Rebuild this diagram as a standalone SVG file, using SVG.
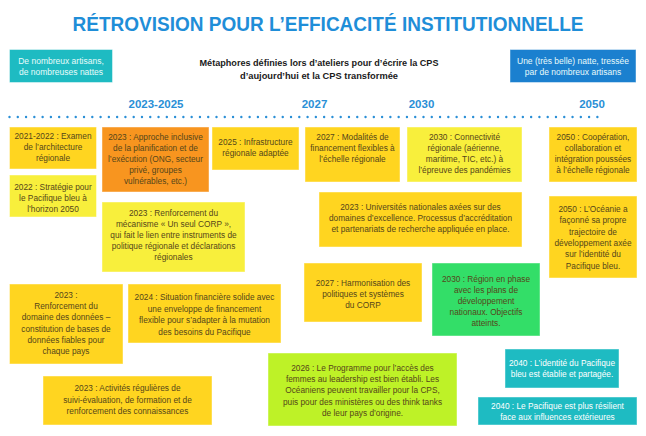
<svg xmlns="http://www.w3.org/2000/svg" width="646" height="436" viewBox="0 0 646 436">
<style>
text{font-family:"Liberation Sans",Arial,sans-serif;text-anchor:middle}
.t{font-size:8.3px;fill:#55461a}
.w{font-size:8.3px;fill:#ffffff}
.hd{font-size:8.5px;fill:#e8fbfb}
.yr{font-size:11.5px;font-weight:bold;fill:#2a8fd6}
.sub{font-size:9px;font-weight:bold;fill:#1a1a1a}
rect{stroke:#ffffff;stroke-opacity:0.45;stroke-width:1}
.gold{fill:#ffd520}
.lt{fill:#f8ef3c}
.or{fill:#f8951f}
.gr{fill:#33de68}
.li{fill:#bef227}
.te{fill:#1ebbc2}
.bl{fill:#1b80cf}
</style>
<rect width="646" height="436" fill="#ffffff" style="stroke:none"/>
<text x="328" y="30.5" font-size="21" font-weight="bold" fill="#1f8ed8" textLength="511" lengthAdjust="spacingAndGlyphs">RÉTROVISION POUR L’EFFICACITÉ INSTITUTIONNELLE</text>

<g id="hdr-left">
<rect class="te" x="9.5" y="49.5" width="103" height="33"/>
<text class="hd" x="61" y="64">De nombreux artisans,</text>
<text class="hd" x="61" y="74.5">de nombreuses nattes</text>
</g>
<g id="hdr-center">
<text class="sub" x="319" y="66" textLength="239" lengthAdjust="spacingAndGlyphs">Métaphores définies lors d’ateliers pour d’écrire la CPS</text>
<text class="sub" x="319" y="78.5" textLength="158" lengthAdjust="spacingAndGlyphs">d’aujourd’hui et la CPS transformée</text>
</g>
<g id="hdr-right">
<rect class="bl" x="510" y="49.5" width="126" height="33"/>
<text class="hd" x="573" y="64">Une (très belle) natte, tressée</text>
<text class="hd" x="573" y="74.5">par de nombreux artisans</text>
</g>

<g id="timeline">
<text class="yr" x="156" y="107.5">2023-2025</text>
<text class="yr" x="314.5" y="107.5">2027</text>
<text class="yr" x="421.5" y="107.5">2030</text>
<text class="yr" x="592" y="107.5">2050</text>
<line x1="9.5" y1="117" x2="598" y2="117" stroke="#2a8fd6" stroke-width="2.4" stroke-linecap="round" stroke-dasharray="0 8.28"/>
</g>

<g id="b1">
<rect class="gold" x="9.5" y="127" width="87" height="42"/>
<text class="t" x="53" y="139">2021-2022 : Examen</text>
<text class="t" x="53" y="150">de l’architecture</text>
<text class="t" x="53" y="161">régionale</text>
</g>
<g id="b2">
<rect class="lt" x="9.5" y="175" width="87" height="42"/>
<text class="t" x="53" y="190">2022 : Stratégie pour</text>
<text class="t" x="53" y="201">le Pacifique bleu à</text>
<text class="t" x="53" y="211.5">l’horizon 2050</text>
</g>
<g id="b3">
<rect class="or" x="102" y="127" width="107" height="65"/>
<text class="t" x="155.5" y="140">2023 : Approche inclusive</text>
<text class="t" x="155.5" y="151">de la planification et de</text>
<text class="t" x="155.5" y="162">l’exécution (ONG, secteur</text>
<text class="t" x="155.5" y="173">privé, groupes</text>
<text class="t" x="155.5" y="184">vulnérables, etc.)</text>
</g>
<g id="b4">
<rect class="lt" x="102" y="202" width="143" height="70"/>
<text class="t" x="173.5" y="216">2023 : Renforcement du</text>
<text class="t" x="173.5" y="227">mécanisme « Un seul CORP »,</text>
<text class="t" x="173.5" y="238">qui fait le lien entre instruments de</text>
<text class="t" x="173.5" y="249">politique régionale et déclarations</text>
<text class="t" x="173.5" y="260">régionales</text>
</g>
<g id="b5">
<rect class="gold" x="212" y="127" width="87" height="43"/>
<text class="t" x="255.5" y="145">2025 : Infrastructure</text>
<text class="t" x="255.5" y="156">régionale adaptée</text>
</g>
<g id="b6">
<rect class="gold" x="305" y="127" width="95" height="55"/>
<text class="t" x="352.5" y="140">2027 : Modalités de</text>
<text class="t" x="352.5" y="151">financement flexibles à</text>
<text class="t" x="352.5" y="162">l’échelle régionale</text>
</g>
<g id="b7">
<rect class="gold" x="319" y="192" width="203" height="55"/>
<text class="t" x="420.5" y="210">2023 : Universités nationales axées sur des</text>
<text class="t" x="420.5" y="221">domaines d’excellence. Processus d’accréditation</text>
<text class="t" x="420.5" y="232">et partenariats de recherche appliquée en place.</text>
</g>
<g id="b8">
<rect class="lt" x="407" y="127" width="115" height="55"/>
<text class="t" x="464.5" y="140">2030 : Connectivité</text>
<text class="t" x="464.5" y="151">régionale (aérienne,</text>
<text class="t" x="464.5" y="162">maritime, TIC, etc.) à</text>
<text class="t" x="464.5" y="173">l’épreuve des pandémies</text>
</g>
<g id="b9">
<rect class="gold" x="549" y="127" width="88" height="55"/>
<text class="t" x="593" y="140">2050 : Coopération,</text>
<text class="t" x="593" y="151">collaboration et</text>
<text class="t" x="593" y="162">intégration poussées</text>
<text class="t" x="593" y="173">à l’échelle régionale</text>
</g>
<g id="b10">
<rect class="gold" x="549" y="196" width="88" height="82"/>
<text class="t" x="593" y="212">2050 : L’Océanie a</text>
<text class="t" x="593" y="223.3">façonné sa propre</text>
<text class="t" x="593" y="234.6">trajectoire de</text>
<text class="t" x="593" y="245.9">développement axée</text>
<text class="t" x="593" y="257.2">sur l’identité du</text>
<text class="t" x="593" y="268.5">Pacifique bleu.</text>
</g>
<g id="b11">
<rect class="gold" x="9.5" y="284" width="113.5" height="80"/>
<text class="t" x="66" y="298">2023 :</text>
<text class="t" x="66" y="309.2">Renforcement du</text>
<text class="t" x="66" y="320.4">domaine des données –</text>
<text class="t" x="66" y="331.6">constitution de bases de</text>
<text class="t" x="66" y="342.8">données fiables pour</text>
<text class="t" x="66" y="354">chaque pays</text>
</g>
<g id="b12">
<rect class="gold" x="128" y="284" width="153" height="59"/>
<text class="t" x="204.5" y="300">2024 : Situation financière solide avec</text>
<text class="t" x="204.5" y="311.5">une enveloppe de financement</text>
<text class="t" x="204.5" y="323">flexible pour s’adapter à la mutation</text>
<text class="t" x="204.5" y="334.5">des besoins du Pacifique</text>
</g>
<g id="b13">
<rect class="gold" x="43" y="376" width="169" height="49"/>
<text class="t" x="127.5" y="391">2023 : Activités régulières de</text>
<text class="t" x="127.5" y="402.5">suivi-évaluation, de formation et de</text>
<text class="t" x="127.5" y="414">renforcement des connaissances</text>
</g>
<g id="b14">
<rect class="gold" x="304" y="263" width="118" height="59"/>
<text class="t" x="363" y="286">2027 : Harmonisation des</text>
<text class="t" x="363" y="297">politiques et systèmes</text>
<text class="t" x="363" y="308">du CORP</text>
</g>
<g id="b15">
<rect class="gr" x="432" y="263" width="108" height="73"/>
<text class="t" x="486" y="282">2030 : Région en phase</text>
<text class="t" x="486" y="293">avec les plans de</text>
<text class="t" x="486" y="304">développement</text>
<text class="t" x="486" y="315">nationaux. Objectifs</text>
<text class="t" x="486" y="326">atteints.</text>
</g>
<g id="b16">
<rect class="li" x="268" y="353" width="189" height="73"/>
<text class="t" x="362.5" y="371">2026 : Le Programme pour l’accès des</text>
<text class="t" x="362.5" y="382">femmes au leadership est bien établi. Les</text>
<text class="t" x="362.5" y="393">Océaniens peuvent travailler pour la CPS,</text>
<text class="t" x="362.5" y="404.5">puis pour des ministères ou des think tanks</text>
<text class="t" x="362.5" y="415.5">de leur pays d’origine.</text>
</g>
<g id="b17">
<rect class="te" x="505" y="349" width="114" height="39"/>
<text class="w" x="562" y="365.5">2040 : L’identité du Pacifique</text>
<text class="w" x="562" y="376.5">bleu est établie et partagée.</text>
</g>
<g id="b18">
<rect class="te" x="478" y="397" width="159" height="28"/>
<text class="w" x="557.5" y="408.5">2040 : Le Pacifique est plus résilient</text>
<text class="w" x="557.5" y="419.5">face aux influences extérieures</text>
</g>
</svg>
